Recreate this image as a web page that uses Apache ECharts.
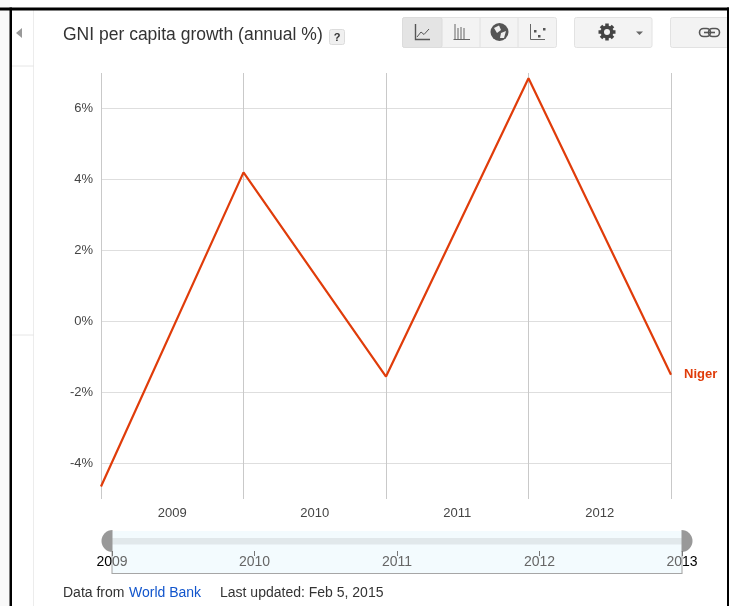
<!DOCTYPE html>
<html>
<head>
<meta charset="utf-8">
<style>html,body{margin:0;padding:0;background:#fff}#c{width:735px;height:606px}</style>
<script src="https://cdn.jsdelivr.net/npm/echarts@6/dist/echarts.min.js"></script>
</head>
<body>
<div id="c"></div>
<script>
const years = [2009, 2010, 2011, 2012, 2013];
const growth = [-4.65, 4.2, -1.55, 6.85, -1.5];
const yTicks = [-4, -2, 0, 2, 4, 6];
const periodCenters = [2009.5, 2010.5, 2011.5, 2012.5];
const seriesName = 'Niger';
const titleText = 'GNI per capita growth (annual %)';

const FONT = '"Liberation Sans", Arial, sans-serif';
const RED = '#e03c0a';
const g = [];
const rect = (x, y, w, h, fill, stroke, r, lw) => g.push({type:'rect', shape:{x, y, width:w, height:h, r:r||0}, style:{fill, stroke:stroke||null, lineWidth:stroke?(lw||1):0}, silent:true});
const line = (x1, y1, x2, y2, stroke, w) => g.push({type:'line', shape:{x1, y1, x2, y2}, style:{stroke, lineWidth:w||1}, silent:true});
const poly = (points, stroke, w) => g.push({type:'polyline', shape:{points}, style:{stroke, fill:null, lineWidth:w||1}, silent:true});
const fillPoly = (points, fill) => g.push({type:'polygon', shape:{points}, style:{fill}, silent:true});
const circle = (cx, cy, r, fill, stroke, w) => g.push({type:'circle', shape:{cx, cy, r}, style:{fill:fill||null, stroke:stroke||null, lineWidth:w||0}, silent:true});
const text = (x, y, t, size, fill, extra) => g.push({type:'text', x, y, style:Object.assign({text:t, fontSize:size, fill, fontFamily:FONT, verticalAlign:'middle'}, extra||{}), silent:true});

// page frame
rect(0, 0, 10, 606, '#f9f9f9');
line(33.5, 10, 33.5, 606, '#ececec');
line(12, 66, 34, 66, '#e6e6e6');
line(12, 335, 34, 335, '#e6e6e6');

// header
fillPoly([[22, 28], [22, 38], [16, 33]], '#999');
text(63, 35, titleText, 17.5, '#333');
rect(329.5, 29.5, 15, 15, '#f0f0f0', '#dcdcdc', 2);
text(337, 37.5, '?', 11, '#333', {fontWeight:'bold', align:'center'});

// chart-type buttons
rect(402.5, 17.5, 154, 30, '#f3f3f3', '#e2e2e2', 2);
rect(402.5, 17.5, 39.5, 30, '#e4e4e4', '#dcdcdc', 2);
line(480, 18, 480, 47, '#e0e0e0');
line(518, 18, 518, 47, '#e0e0e0');
poly([[415.5, 24], [415.5, 39.5], [430, 39.5]], '#555', 1.4);
poly([[417, 37], [421, 32], [424, 34.5], [429, 29]], '#555', 1);
[455, 458, 461, 464].forEach((x, i) => line(x, [24, 28, 27, 28][i], x, 39, '#666', 1));
line(453.5, 39.5, 470, 39.5, '#666', 1);
circle(499.5, 32, 9, '#555');
fillPoly([[494, 28], [499, 25.5], [501, 30], [497, 33]], '#eee');
fillPoly([[501, 33], [506, 31], [504, 38], [500, 38]], '#eee');
poly([[530.5, 24], [530.5, 39.5], [545, 39.5]], '#666', 1);
[[534, 30], [538, 35], [543, 28]].forEach(p => rect(p[0], p[1], 2.5, 2.5, '#555'));

// settings button
rect(574.5, 17.5, 77.5, 30, '#f3f3f3', '#e2e2e2', 2);
[0, 45, 90, 135].forEach(a => {
  const r = a * Math.PI / 180, dx = 8.5 * Math.cos(r), dy = 8.5 * Math.sin(r);
  line(607 - dx, 32 - dy, 607 + dx, 32 + dy, '#444', 3.5);
});
circle(607, 32, 6.5, '#444');
circle(607, 32, 3, '#f3f3f3');
fillPoly([[636, 31.5], [643, 31.5], [639.5, 35]], '#666');

// link button
rect(670.5, 17.5, 58, 30, '#f3f3f3', '#e2e2e2', 2);
rect(699.5, 28.5, 11, 8, null, '#555', 4, 1.6);
rect(708.5, 28.5, 11, 8, null, '#555', 4, 1.6);
line(704, 32.5, 715, 32.5, '#555', 1.6);

// outer black frame, above the buttons
rect(0, 7.5, 729, 3, '#000');
rect(9.5, 7.5, 2.5, 599, '#000');
rect(727, 7.5, 2, 599, '#000');

// range slider
rect(112, 531, 570, 43, '#f3fbfe');
rect(112, 538, 570, 6.5, '#e1e8eb');
line(112, 551, 112, 574, '#a0a0a0');
line(682, 551, 682, 574, '#a0a0a0');
line(112, 573.5, 682, 573.5, '#a6a6a6', 1.2);
g.push({type:'sector', shape:{cx:112.5, cy:541, r0:0, r:11, startAngle:Math.PI / 2, endAngle:Math.PI * 1.5}, style:{fill:'#999'}, silent:true});
g.push({type:'sector', shape:{cx:681.5, cy:541, r0:0, r:11, startAngle:-Math.PI / 2, endAngle:Math.PI / 2}, style:{fill:'#999'}, silent:true});

// footer
text(63, 593.5, 'Data from', 14, '#333');
text(129, 593.5, 'World Bank', 14, '#1155cc');
text(220, 593.5, 'Last updated: Feb 5, 2015', 14, '#333');

const chart = echarts.init(document.getElementById('c'), null, {renderer:'canvas'});
chart.setOption({
  animation: false,
  backgroundColor: '#fff',
  textStyle: {fontFamily: FONT},
  graphic: {elements: g.map(e => Object.assign({z: -10}, e))},
  grid: [
    {left: 101, top: 73, width: 570, height: 426, containLabel: false},
    {left: 112, top: 551, width: 570, height: 23, containLabel: false}
  ],
  xAxis: [
    {
      type: 'value', gridIndex: 0, min: 2009, max: 2013, interval: 1,
      axisLine: {show: false}, axisTick: {show: false},
      splitLine: {show: true, lineStyle: {color: '#c9c9c9', width: 1}},
      axisLabel: {customValues: periodCenters, formatter: v => String(Math.floor(v)), color: '#444', fontSize: 13, margin: 8}
    },
    {
      type: 'value', gridIndex: 1, position: 'top', min: 2009, max: 2013, interval: 1,
      axisLine: {show: false, onZero: false}, splitLine: {show: false},
      axisTick: {show: true, inside: true, length: 5, lineStyle: {color: '#777'}},
      axisLabel: {
        inside: true, margin: 4, fontSize: 14, color: '#666',
        formatter: v => {
          const s = String(v);
          if (v === years[0]) return '{k|' + s.slice(0, 2) + '}{g|' + s.slice(2) + '}';
          if (v === years[years.length - 1]) return '{g|' + s.slice(0, 2) + '}{k|' + s.slice(2) + '}';
          return '{g|' + s + '}';
        },
        rich: {k: {color: '#000', fontSize: 14}, g: {color: '#666', fontSize: 14}}
      }
    }
  ],
  yAxis: [
    {
      type: 'value', gridIndex: 0, min: -5, max: 7,
      axisLine: {show: false},
      axisTick: {show: false, customValues: yTicks},
      splitLine: {show: true, lineStyle: {color: '#dedede', width: 1}},
      axisLabel: {customValues: yTicks, formatter: v => v + '%', color: '#444', fontSize: 13, margin: 8}
    },
    {type: 'value', gridIndex: 1, show: false, min: 0, max: 1, splitLine: {show: false}}
  ],
  series: [
    {
      name: seriesName, type: 'line', xAxisIndex: 0, yAxisIndex: 0,
      data: years.map((y, i) => [y, growth[i]]),
      showSymbol: false, symbol: 'none', clip: false,
      lineStyle: {color: RED, width: 2.2},
      endLabel: {show: true, formatter: seriesName, color: RED, fontWeight: 'bold', fontSize: 13, distance: 13, fontFamily: FONT}
    }
  ]
});
</script>
</body>
</html>
